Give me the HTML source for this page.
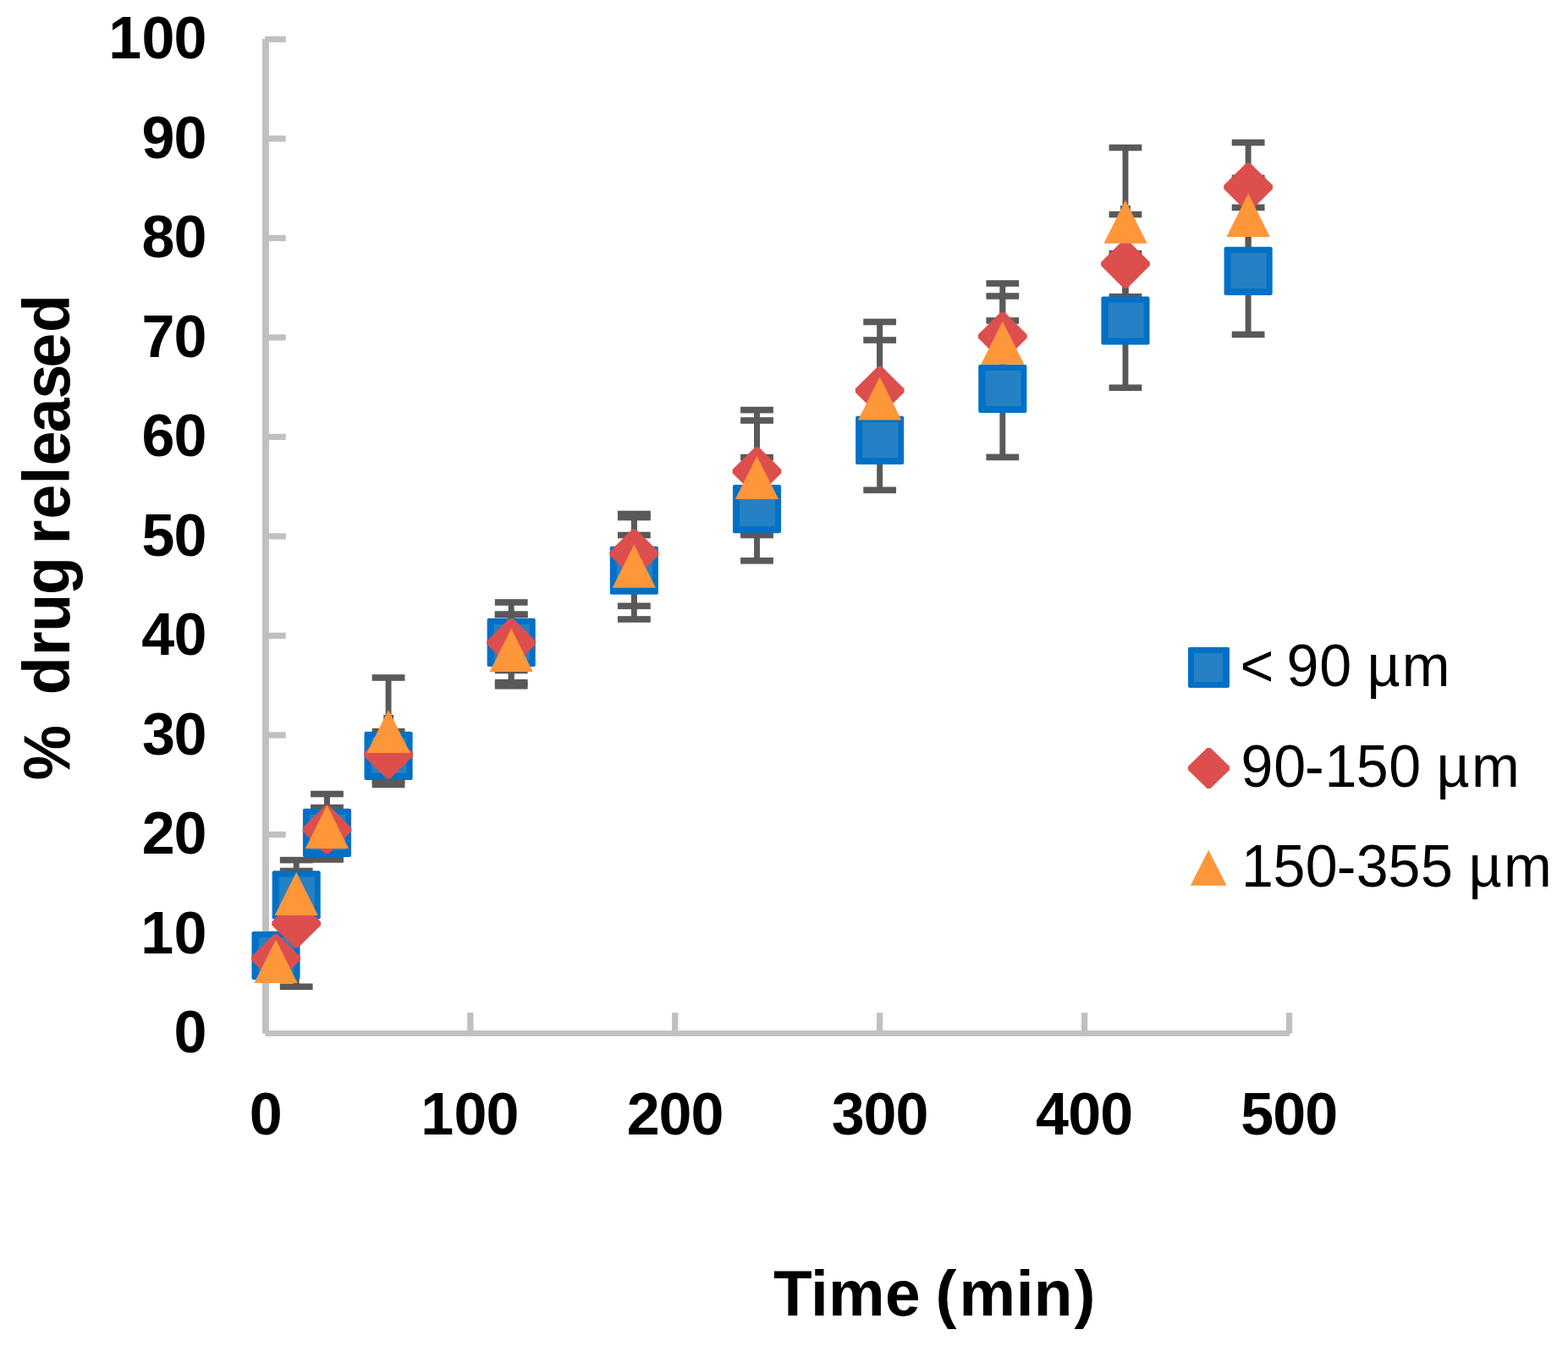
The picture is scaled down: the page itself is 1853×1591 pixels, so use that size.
<!DOCTYPE html>
<html lang="en">
<head>
<meta charset="utf-8">
<title>Drug release vs time</title>
<style>
html,body{margin:0;padding:0;background:#fff;}
body{width:1853px;height:1591px;overflow:hidden;}
svg{display:block;}
text{white-space:pre;}
</style>
</head>
<body>
<svg width="1853" height="1591" viewBox="0 0 1853 1591" font-family="'Liberation Sans', Arial, Helvetica, sans-serif" fill="#000">
<rect width="1853" height="1591" fill="#fff"/>
<g fill="#c0c0c0">
<rect x="310" y="46" width="7.9" height="1175.7"/>
<rect x="313.2" y="1218.1" width="1210.7" height="6.8"/>
<rect x="313.1" y="1100.29" width="24.7" height="7.3"/>
<rect x="313.1" y="982.79" width="24.7" height="7.3"/>
<rect x="313.1" y="865.28" width="24.7" height="7.3"/>
<rect x="313.1" y="747.78" width="24.7" height="7.3"/>
<rect x="313.1" y="630.27" width="24.7" height="7.3"/>
<rect x="313.1" y="512.77" width="24.7" height="7.3"/>
<rect x="313.1" y="395.26" width="24.7" height="7.3"/>
<rect x="313.1" y="277.76" width="24.7" height="7.3"/>
<rect x="313.1" y="160.25" width="24.7" height="7.3"/>
<rect x="313.1" y="42.75" width="24.7" height="7.3"/>
<rect x="552.17" y="1197" width="7.3" height="24.7"/>
<rect x="794.09" y="1197" width="7.3" height="24.7"/>
<rect x="1036.01" y="1197" width="7.3" height="24.7"/>
<rect x="1277.93" y="1197" width="7.3" height="24.7"/>
<rect x="1519.85" y="1197" width="7.3" height="24.7"/>
</g>
<g fill="#595959">
<rect x="346.74" y="1029.5" width="6.9" height="56.9"/>
<rect x="330.79" y="1025.7" width="38.8" height="7.6"/>
<rect x="330.79" y="1082.6" width="38.8" height="7.6"/>
<rect x="383.03" y="954.6" width="6.9" height="59.4"/>
<rect x="367.08" y="950.8" width="38.8" height="7.6"/>
<rect x="367.08" y="1010.2" width="38.8" height="7.6"/>
<rect x="455.6" y="864.6" width="6.9" height="57.6"/>
<rect x="439.65" y="860.8" width="38.8" height="7.6"/>
<rect x="439.65" y="918.4" width="38.8" height="7.6"/>
<rect x="600.75" y="712" width="6.9" height="94.7"/>
<rect x="584.8" y="708.2" width="38.8" height="7.6"/>
<rect x="584.8" y="802.9" width="38.8" height="7.6"/>
<rect x="745.91" y="632.5" width="6.9" height="83.8"/>
<rect x="729.96" y="628.7" width="38.8" height="7.6"/>
<rect x="729.96" y="712.5" width="38.8" height="7.6"/>
<rect x="891.06" y="540.6" width="6.9" height="122.2"/>
<rect x="875.11" y="536.8" width="38.8" height="7.6"/>
<rect x="875.11" y="659" width="38.8" height="7.6"/>
<rect x="1036.21" y="461.5" width="6.9" height="117.8"/>
<rect x="1020.26" y="457.7" width="38.8" height="7.6"/>
<rect x="1020.26" y="575.5" width="38.8" height="7.6"/>
<rect x="1181.36" y="379" width="6.9" height="161.4"/>
<rect x="1165.41" y="375.2" width="38.8" height="7.6"/>
<rect x="1165.41" y="536.6" width="38.8" height="7.6"/>
<rect x="1326.51" y="299.6" width="6.9" height="158.7"/>
<rect x="1310.56" y="295.8" width="38.8" height="7.6"/>
<rect x="1310.56" y="454.5" width="38.8" height="7.6"/>
<rect x="1471.67" y="245.3" width="6.9" height="150.1"/>
<rect x="1455.72" y="241.5" width="38.8" height="7.6"/>
<rect x="1455.72" y="391.6" width="38.8" height="7.6"/>
<rect x="346.74" y="1016.6" width="6.9" height="149.7"/>
<rect x="330.79" y="1012.8" width="38.8" height="7.6"/>
<rect x="330.79" y="1162.5" width="38.8" height="7.6"/>
<rect x="600.75" y="726.5" width="6.9" height="66"/>
<rect x="584.8" y="722.7" width="38.8" height="7.6"/>
<rect x="584.8" y="788.7" width="38.8" height="7.6"/>
<rect x="745.91" y="611.5" width="6.9" height="85.5"/>
<rect x="729.96" y="607.7" width="38.8" height="7.6"/>
<rect x="729.96" y="693.2" width="38.8" height="7.6"/>
<rect x="891.06" y="484.6" width="6.9" height="145"/>
<rect x="875.11" y="480.8" width="38.8" height="7.6"/>
<rect x="875.11" y="625.8" width="38.8" height="7.6"/>
<rect x="1036.21" y="380.5" width="6.9" height="162.2"/>
<rect x="1020.26" y="376.7" width="38.8" height="7.6"/>
<rect x="1020.26" y="538.9" width="38.8" height="7.6"/>
<rect x="1181.36" y="335" width="6.9" height="125"/>
<rect x="1165.41" y="331.2" width="38.8" height="7.6"/>
<rect x="1165.41" y="456.2" width="38.8" height="7.6"/>
<rect x="1326.51" y="253.5" width="6.9" height="117.1"/>
<rect x="1310.56" y="249.7" width="38.8" height="7.6"/>
<rect x="1310.56" y="366.8" width="38.8" height="7.6"/>
<rect x="1471.67" y="168.5" width="6.9" height="105.3"/>
<rect x="1455.72" y="164.7" width="38.8" height="7.6"/>
<rect x="1455.72" y="270" width="38.8" height="7.6"/>
<rect x="383.03" y="938.5" width="6.9" height="77.5"/>
<rect x="367.08" y="934.7" width="38.8" height="7.6"/>
<rect x="367.08" y="1012.2" width="38.8" height="7.6"/>
<rect x="455.6" y="801" width="6.9" height="126.5"/>
<rect x="439.65" y="797.2" width="38.8" height="7.6"/>
<rect x="439.65" y="923.7" width="38.8" height="7.6"/>
<rect x="600.75" y="726.2" width="6.9" height="84.6"/>
<rect x="584.8" y="722.4" width="38.8" height="7.6"/>
<rect x="584.8" y="807" width="38.8" height="7.6"/>
<rect x="745.91" y="607.5" width="6.9" height="124.5"/>
<rect x="729.96" y="603.7" width="38.8" height="7.6"/>
<rect x="729.96" y="728.2" width="38.8" height="7.6"/>
<rect x="891.06" y="497" width="6.9" height="135.5"/>
<rect x="875.11" y="493.2" width="38.8" height="7.6"/>
<rect x="875.11" y="628.7" width="38.8" height="7.6"/>
<rect x="1036.21" y="402" width="6.9" height="138"/>
<rect x="1020.26" y="398.2" width="38.8" height="7.6"/>
<rect x="1020.26" y="536.2" width="38.8" height="7.6"/>
<rect x="1181.36" y="350" width="6.9" height="110.4"/>
<rect x="1165.41" y="346.2" width="38.8" height="7.6"/>
<rect x="1165.41" y="456.6" width="38.8" height="7.6"/>
<rect x="1326.51" y="174.5" width="6.9" height="176.2"/>
<rect x="1310.56" y="170.7" width="38.8" height="7.6"/>
<rect x="1310.56" y="346.9" width="38.8" height="7.6"/>
<rect x="1471.67" y="210.4" width="6.9" height="87.9"/>
<rect x="1455.72" y="206.6" width="38.8" height="7.6"/>
<rect x="1455.72" y="294.5" width="38.8" height="7.6"/>
<rect x="453.3" y="845" width="11.8" height="6"/>
<rect x="1324" y="243" width="12" height="6"/>
</g>
<g>
<rect x="297.45" y="1100.95" width="57.1" height="57.1" rx="2" fill="#0070c6"/><rect x="305.6" y="1108.1" width="42" height="42" fill="#2581c4"/>
<rect x="321.64" y="1029.35" width="57.1" height="57.1" rx="2" fill="#0070c6"/><rect x="329.79" y="1036.5" width="42" height="42" fill="#2581c4"/>
<rect x="357.93" y="955.85" width="57.1" height="57.1" rx="2" fill="#0070c6"/><rect x="366.08" y="963" width="42" height="42" fill="#2581c4"/>
<rect x="430.5" y="864.85" width="57.1" height="57.1" rx="2" fill="#0070c6"/><rect x="438.65" y="872" width="42" height="42" fill="#2581c4"/>
<rect x="575.65" y="730.85" width="57.1" height="57.1" rx="2" fill="#0070c6"/><rect x="583.8" y="738" width="42" height="42" fill="#2581c4"/>
<rect x="720.81" y="645.75" width="57.1" height="57.1" rx="2" fill="#0070c6"/><rect x="728.96" y="652.9" width="42" height="42" fill="#2581c4"/>
<rect x="865.96" y="573.05" width="57.1" height="57.1" rx="2" fill="#0070c6"/><rect x="874.11" y="580.2" width="42" height="42" fill="#2581c4"/>
<rect x="1011.11" y="491.85" width="57.1" height="57.1" rx="2" fill="#0070c6"/><rect x="1019.26" y="499" width="42" height="42" fill="#2581c4"/>
<rect x="1156.26" y="430.95" width="57.1" height="57.1" rx="2" fill="#0070c6"/><rect x="1164.41" y="438.1" width="42" height="42" fill="#2581c4"/>
<rect x="1301.41" y="350.45" width="57.1" height="57.1" rx="2" fill="#0070c6"/><rect x="1309.56" y="357.6" width="42" height="42" fill="#2581c4"/>
<rect x="1446.57" y="291.85" width="57.1" height="57.1" rx="2" fill="#0070c6"/><rect x="1454.72" y="299" width="42" height="42" fill="#2581c4"/>
</g>
<g>
<polygon points="323.9,1104.2 328.1,1104.2 354.9,1130.8 354.9,1135 328.1,1161.6 323.9,1161.6 297.1,1135 297.1,1130.8" fill="#dc4f4d"/>
<polygon points="348.09,1062.9 352.29,1062.9 379.09,1089.5 379.09,1093.7 352.29,1120.3 348.09,1120.3 321.29,1093.7 321.29,1089.5" fill="#dc4f4d"/>
<polygon points="384.38,951.8 388.58,951.8 415.38,978.4 415.38,982.6 388.58,1009.2 384.38,1009.2 357.58,982.6 357.58,978.4" fill="#dc4f4d"/>
<polygon points="456.95,863.1 461.15,863.1 487.95,889.7 487.95,893.9 461.15,920.5 456.95,920.5 430.15,893.9 430.15,889.7" fill="#dc4f4d"/>
<polygon points="602.1,730.9 606.3,730.9 633.1,757.5 633.1,761.7 606.3,788.3 602.1,788.3 575.3,761.7 575.3,757.5" fill="#dc4f4d"/>
<polygon points="747.26,625.5 751.46,625.5 778.26,652.1 778.26,656.3 751.46,682.9 747.26,682.9 720.46,656.3 720.46,652.1" fill="#dc4f4d"/>
<polygon points="892.41,528.4 896.61,528.4 923.41,555 923.41,559.2 896.61,585.8 892.41,585.8 865.61,559.2 865.61,555" fill="#dc4f4d"/>
<polygon points="1037.56,432.9 1041.76,432.9 1068.56,459.5 1068.56,463.7 1041.76,490.3 1037.56,490.3 1010.76,463.7 1010.76,459.5" fill="#dc4f4d"/>
<polygon points="1182.71,368.8 1186.91,368.8 1213.71,395.4 1213.71,399.6 1186.91,426.2 1182.71,426.2 1155.91,399.6 1155.91,395.4" fill="#dc4f4d"/>
<polygon points="1327.86,283.3 1332.06,283.3 1358.86,309.9 1358.86,314.1 1332.06,340.7 1327.86,340.7 1301.06,314.1 1301.06,309.9" fill="#dc4f4d"/>
<polygon points="1473.02,192.5 1477.22,192.5 1504.02,219.1 1504.02,223.3 1477.22,249.9 1473.02,249.9 1446.22,223.3 1446.22,219.1" fill="#dc4f4d"/>
</g>
<g>
<polygon points="326,1110.4 351.6,1161.9 300.4,1161.9" fill="#fe963a"/>
<polygon points="350.19,1030.8 375.79,1082.1 324.59,1082.1" fill="#fe963a"/>
<polygon points="386.48,951.4 412.08,1003 360.88,1003" fill="#fe963a"/>
<polygon points="459.05,838.9 484.65,890 433.45,890" fill="#fe963a"/>
<polygon points="604.2,743 629.8,794.1 578.6,794.1" fill="#fe963a"/>
<polygon points="749.36,643.8 774.96,694.7 723.76,694.7" fill="#fe963a"/>
<polygon points="894.51,539.2 920.11,590.1 868.91,590.1" fill="#fe963a"/>
<polygon points="1039.66,445.5 1065.26,496.6 1014.06,496.6" fill="#fe963a"/>
<polygon points="1184.81,379.8 1210.41,430.7 1159.21,430.7" fill="#fe963a"/>
<polygon points="1329.96,236.6 1355.56,287.8 1304.36,287.8" fill="#fe963a"/>
<polygon points="1475.12,228.7 1500.72,279.9 1449.52,279.9" fill="#fe963a"/>
</g>
<g>
<rect x="1404" y="764.9" width="49" height="48" rx="1.8" fill="#0070c6"/><rect x="1411" y="772" width="34" height="34" fill="#2581c4"/>
<polygon points="1426.5,883.9 1430.5,883.9 1453.1,906 1453.1,910 1430.5,932.1 1426.5,932.1 1403.9,910 1403.9,906" fill="#dc4f4d"/>
<polygon points="1428.2,1004.7 1449.5,1046.8 1406.9,1046.8" fill="#fe963a"/>
</g>
<g>
<text x="205.59" y="1244.05" font-weight="700" font-size="70px">0</text>
<text x="166.3 205.59" y="1126.54" font-weight="700" font-size="70px">10</text>
<text x="167.72 205.59" y="1009.04" font-weight="700" font-size="70px">20</text>
<text x="168 205.59" y="891.53" font-weight="700" font-size="70px">30</text>
<text x="167.19 205.59" y="774.03" font-weight="700" font-size="70px">40</text>
<text x="167.43 205.59" y="656.52" font-weight="700" font-size="70px">50</text>
<text x="167.52 205.59" y="539.02" font-weight="700" font-size="70px">60</text>
<text x="167.57 205.59" y="421.51" font-weight="700" font-size="70px">70</text>
<text x="167.5 205.59" y="304.01" font-weight="700" font-size="70px">80</text>
<text x="167.62 205.59" y="186.5" font-weight="700" font-size="70px">90</text>
<text x="128.3 167.59 205.59" y="69" font-weight="700" font-size="70px">100</text>
</g>
<g>
<text x="294.69" y="1341" font-weight="700" font-size="70px">0</text>
<text x="497.32 536.61 574.61" y="1341" font-weight="700" font-size="70px">100</text>
<text x="740.66 778.53 816.53" y="1341" font-weight="700" font-size="70px">200</text>
<text x="982.86 1020.45 1058.45" y="1341" font-weight="700" font-size="70px">300</text>
<text x="1223.97 1262.37 1300.37" y="1341" font-weight="700" font-size="70px">400</text>
<text x="1466.13 1504.29 1542.29" y="1341" font-weight="700" font-size="70px">500</text>
</g>
<text x="927.84 972.63 993.83 1061.93 1104.2 1122.34 1150.89 1219.17 1240.24 1288.8" y="1555.4" font-weight="700" font-size="76px" transform="scale(0.985 1)">Time (min)</text>
<text x="-4.57 64.79 103 152.15 182.23 228.78 276.43 292.2 323.86 367.71 391.31 432.77 474.97 514.5 558.64" y="0" font-weight="700" font-size="78px" transform="translate(82.1 918) rotate(-90) scale(0.94 1)">% drug released</text>
<text x="1526.49 1567.95 1583.76 1624.21 1663.7 1682.83 1725.88" y="811.2" font-weight="400" font-size="71px" transform="scale(0.96 1)">&lt; 90 µm</text>
<text x="1527.57 1567.96 1606.25 1630.69 1669.49 1709.63 1749.12 1768.3 1811.35" y="930.5" font-weight="400" font-size="71px" transform="scale(0.96 1)">90-150 µm</text>
<text x="1528.14 1567.31 1606.92 1645.63 1669.63 1708.97 1748.87 1788.35 1807.78 1851.14" y="1048" font-weight="400" font-size="71px" transform="scale(0.96 1)">150-355 µm</text>
</svg>
</body>
</html>
